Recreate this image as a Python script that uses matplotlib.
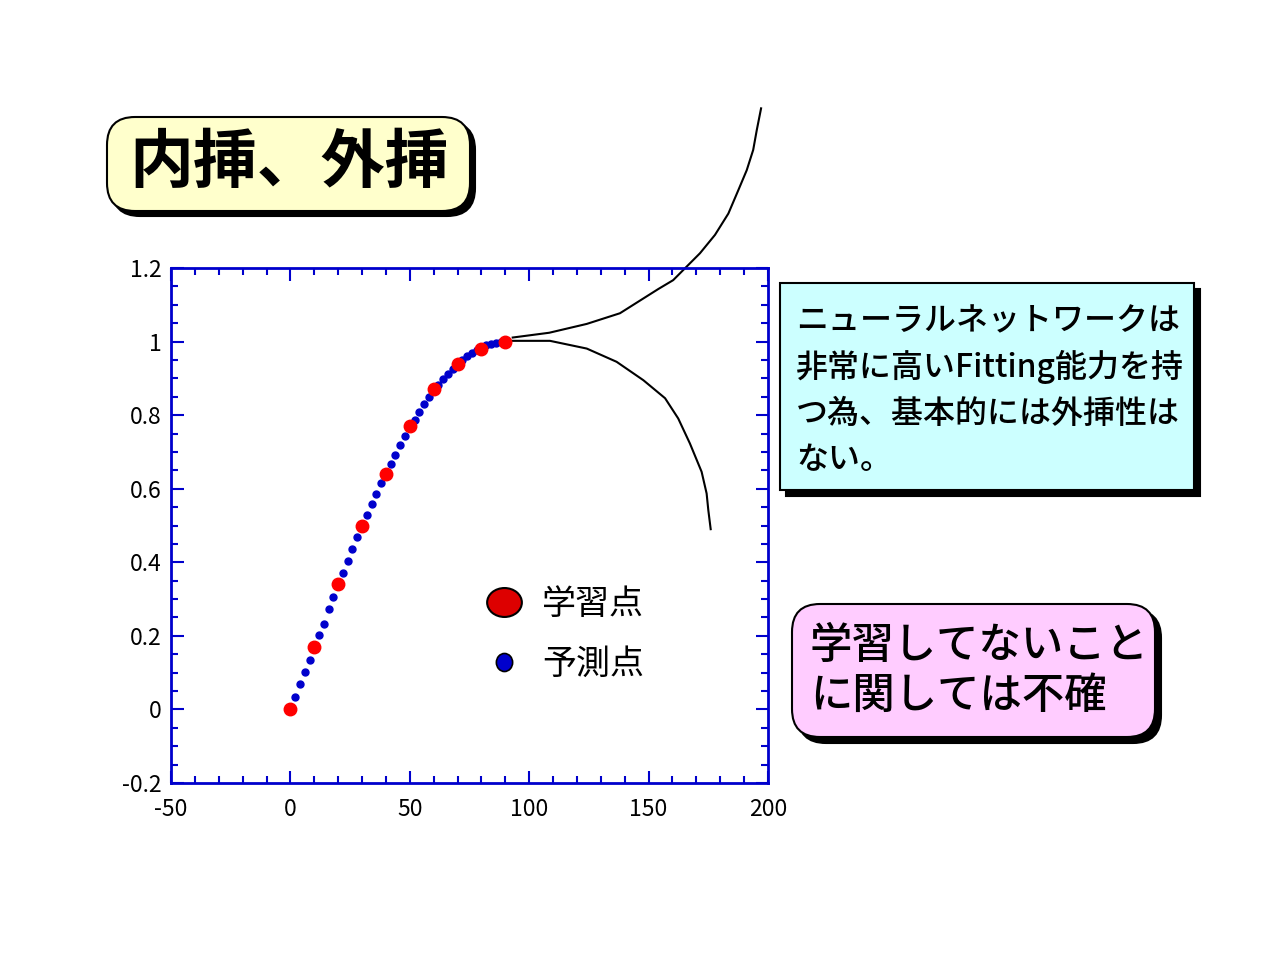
import matplotlib
matplotlib.use("Agg")
import matplotlib.pyplot as plt
from matplotlib.patches import FancyBboxPatch
from matplotlib.lines import Line2D
from matplotlib.path import Path
from matplotlib.transforms import Affine2D
from matplotlib.ticker import MultipleLocator

plt.rcParams['font.family'] = ['Noto Sans CJK JP', 'DejaVu Sans']

# ---------------- data ----------------
train_x = [0, 10, 20, 30, 40, 50, 60, 70, 80, 90]
train_y = [0.0, 0.17, 0.34, 0.50, 0.64, 0.77, 0.87, 0.94, 0.98, 1.0]

pred_x = [2, 4, 6, 8, 12, 14, 16, 18, 22, 24, 26, 28, 32, 34, 36, 38,
          42, 44, 46, 48, 52, 54, 56, 58, 62, 64, 66, 68, 72, 74, 76, 78,
          82, 84, 86, 88]
pred_y = [0.035, 0.068, 0.102, 0.135, 0.203, 0.233, 0.272, 0.305,
          0.370, 0.403, 0.435, 0.470, 0.528, 0.558, 0.585, 0.615,
          0.668, 0.693, 0.718, 0.742, 0.787, 0.808, 0.829, 0.848,
          0.882, 0.898, 0.913, 0.926, 0.950, 0.960, 0.970, 0.976,
          0.990, 0.994, 0.997, 0.999]

upper_x = [93.1, 108.4, 124.1, 138.0, 154.1, 160.3, 165.2, 171.5, 177.8,
           183.4, 187.6, 191.1, 193.8, 195.3, 197.1]
upper_y = [1.011, 1.024, 1.048, 1.077, 1.143, 1.167, 1.199, 1.240, 1.290,
           1.348, 1.412, 1.466, 1.521, 1.575, 1.634]

lower_x = [92.7, 108.7, 124.1, 136.6, 147.8, 156.9, 162.4, 167.3, 172.2,
           174.3, 175.0, 176.0]
lower_y = [1.002, 1.002, 0.981, 0.945, 0.895, 0.846, 0.791, 0.723, 0.646,
           0.587, 0.542, 0.490]

x_ticks = [-50, 0, 50, 100, 150, 200]
x_ticklabels = ['-50', '0', '50', '100', '150', '200']
y_ticks = [-0.2, 0, 0.2, 0.4, 0.6, 0.8, 1.0, 1.2]
y_ticklabels = ['-0.2', '0', '0.2', '0.4', '0.6', '0.8', '1', '1.2']

label_train = '学習点'
label_pred = '予測点'
title_text = '内挿、外挿'
cyan_lines = ['ニューラルネットワークは', '非常に高いFitting能力を持',
              'つ為、基本的には外挿性は', 'ない。']
pink_lines = ['学習してないこと', 'に関しては不確']

# ---------------- figure ----------------
W, H = 1280, 960
fig = plt.figure(figsize=(12.8, 9.6), dpi=100)
fig.patch.set_facecolor('white')

ax = fig.add_axes([171 / W, 1 - 783 / H, (768 - 171) / W, (783 - 268) / H])
ax.set_xlim(-50, 200)
ax.set_ylim(-0.2, 1.2)

blue = '#0000cc'
for s in ax.spines.values():
    s.set_color(blue)
    s.set_linewidth(2)

ax.set_xticks(x_ticks)
ax.set_xticklabels(x_ticklabels)
ax.set_yticks(y_ticks)
ax.set_yticklabels(y_ticklabels)
ax.xaxis.set_minor_locator(MultipleLocator(10))
ax.yaxis.set_minor_locator(MultipleLocator(0.05))
ax.tick_params(which='both', direction='in', top=True, right=True,
               color=blue, width=1.5, labelsize=16.5, labelcolor='black')
ax.tick_params(which='major', length=9)
ax.tick_params(axis='x', which='major', pad=11)
ax.tick_params(axis='y', which='major', pad=7)
ax.tick_params(which='minor', length=5)

# extrapolation curves
ax.plot(upper_x, upper_y, color='black', lw=1.5, clip_on=False, zorder=2)
ax.plot(lower_x, lower_y, color='black', lw=1.5, clip_on=False, zorder=2)

# predictions & training points
ax.plot(pred_x, pred_y, ls='none', marker='o', ms=5, color=blue,
        mec=blue, zorder=3)
ax.plot(train_x, train_y, ls='none', marker='o', ms=9, color='#ff0000',
        mec='#ff0000', zorder=4)

# legend (ellipse markers)
circ = Path.unit_circle()
ell_wide = circ.transformed(Affine2D().scale(1.2, 1.0))
ell_tall = circ.transformed(Affine2D().scale(0.9, 1.0))
h_train = Line2D([], [], ls='none', marker=ell_wide, ms=25, mfc='#dd0000',
                 mec='black', mew=1.5)
h_pred = Line2D([], [], ls='none', marker=ell_tall, ms=13, mfc=blue,
                mec='black', mew=1.2)
leg = ax.legend([h_train, h_pred], [label_train, label_pred],
                loc='upper left', bbox_to_anchor=(4.87, (H - 587) / 100),
                bbox_transform=fig.dpi_scale_trans, frameon=False,
                fontsize=24.5, handlelength=1.0, handletextpad=0.62,
                labelspacing=0.72, borderpad=0, borderaxespad=0)

# ---------------- boxes ----------------
T = fig.dpi_scale_trans


def box(x0, y0, x1, y1, fc, rounded, shadow):
    w = (x1 - x0) / 100
    h = (y1 - y0) / 100
    xl = x0 / 100
    yb = (H - y1) / 100
    if rounded:
        bs = 'round,pad=0,rounding_size=0.28'
    else:
        bs = 'square,pad=0'
    sh = FancyBboxPatch((xl + shadow / 100, yb - shadow / 100), w, h,
                        boxstyle=bs, fc='black', ec='black', lw=1.5,
                        transform=T, zorder=5)
    mp = FancyBboxPatch((xl, yb), w, h, boxstyle=bs, fc=fc, ec='black',
                        lw=1.5, transform=T, zorder=6)
    fig.add_artist(sh)
    fig.add_artist(mp)


box(107, 117, 470, 211, '#ffffcc', True, 5)
box(780, 283, 1194, 490, '#ccffff', False, 6)
box(792, 604, 1155, 737, '#ffccff', True, 6)

fig.text(289 / 100, (H - 163) / 100, title_text, transform=T, fontsize=46,
         fontweight='bold', ha='center', va='center', zorder=7)

for i, line in enumerate(cyan_lines):
    fig.text(796 / 100, (H - (321 + 46.3 * i)) / 100, line, transform=T,
             fontsize=23, fontweight='medium', ha='left', va='center',
             zorder=7)

for i, line in enumerate(pink_lines):
    fig.text(810 / 100, (H - (645 + 50 * i)) / 100, line, transform=T,
             fontsize=30.5, fontweight='medium', ha='left', va='center',
             zorder=7)

fig.savefig('out.png', dpi=100)
